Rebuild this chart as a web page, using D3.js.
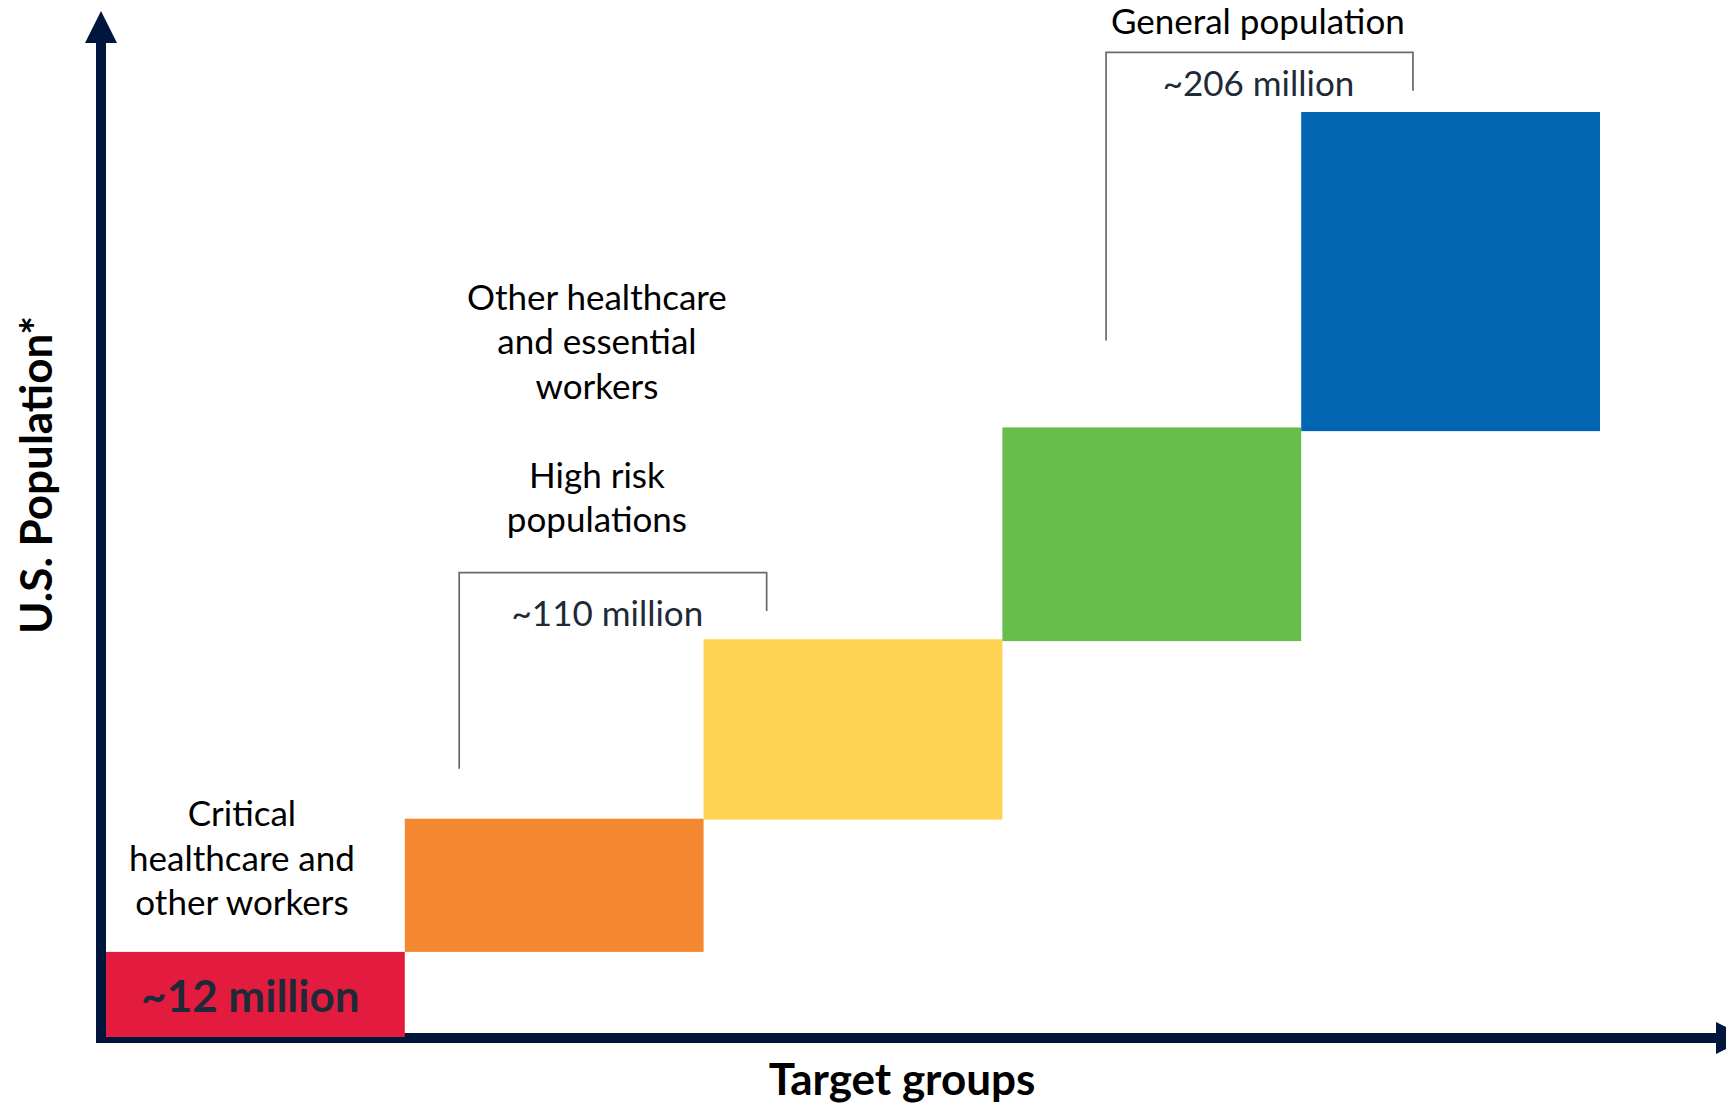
<!DOCTYPE html>
<html>
<head>
<meta charset="utf-8">
<script src="https://cdn.jsdelivr.net/npm/d3@7"></script>
<style>
  html, body { margin: 0; padding: 0; background: #fff; }
  svg { display: block; font-family: Lato, "Open Sans", sans-serif; }
  .label { font-size: 35px; fill: #000; }
  .size-label { font-size: 35px; fill: #1e2a38; }
  .big { font-size: 44px; font-weight: bold; }
  .bracket { fill: none; stroke: #666a70; stroke-width: 1.7px; }
</style>
</head>
<body>
<svg id="chart" width="1726" height="1106"></svg>
<script>
// DATA (heights are relative levels, top of chart = 100)
const STEPS = ["Step 1", "Step 2", "Step 3", "Step 4", "Step 5"];
const STEP_LOW = [0, 9.2, 23.5, 42.8, 65.5];
const STEP_HIGH = [9.2, 23.6, 43.0, 65.9, 100];
const STEP_COLORS = ["#e31c3f", "#f48830", "#fed352", "#67bd4a", "#0165b2"];

const GROUP_NAMES = [
  ["Critical", "healthcare and", "other workers"],
  ["Other healthcare", "and essential", "workers", "", "High risk", "populations"],
  ["General population"],
];
const GROUP_SIZES = ["~12 million", "~110 million", "~206 million"];
const X_TITLE = "Target groups";
const Y_TITLE = "U.S. Population*";

// LAYOUT (in step / level units, so it follows the scales)
const NAME_POS = [
  { x: 0.455, y: 22.8 },
  { x: 1.643, y: 78.6 },
  { x: 3.855, y: 108.4 },
];
const SIZE_POS = [
  { x: 0.483, y: 2.7 },
  { x: 1.678, y: 44.4 },
  { x: 3.857, y: 101.7 },
];
// brackets: [left x, right x, top y, left bottom y, right bottom y]
const BRACKETS = [null, [1.182, 2.211, 50.2, 29.0, 46.05], [3.347, 4.374, 106.45, 75.3, 102.3]];
const LINE_HEIGHT = 44.5;

var svg = d3.select("#chart");
var axisColor = "#01163d";
var origin = { x: 101, y: 1038 };
var axisWidth = 10;

var xScale = d3.scaleLinear().domain([0, STEPS.length]).range([106, 1600]);
var yScale = d3.scaleLinear().domain([0, 100]).range([1037, 112]);

//AXES WITH ARROW HEADS
var axes = svg.append("g").attr("class", "axes");
axes
  .append("line")
  .attr("x1", origin.x)
  .attr("x2", origin.x)
  .attr("y1", origin.y + axisWidth / 2)
  .attr("y2", 42)
  .attr("stroke", axisColor)
  .attr("stroke-width", axisWidth);
axes
  .append("path")
  .attr("d", `M${origin.x},11 L${origin.x - 16},43 L${origin.x + 16},43 Z`)
  .attr("fill", axisColor);
axes
  .append("line")
  .attr("x1", origin.x - axisWidth / 2)
  .attr("x2", 1717)
  .attr("y1", origin.y)
  .attr("y2", origin.y)
  .attr("stroke", axisColor)
  .attr("stroke-width", axisWidth);
axes
  .append("path")
  .attr("d", `M1716,${origin.y - 16} L1748,${origin.y} L1716,${origin.y + 16} Z`)
  .attr("fill", axisColor);

//STEP BARS
svg
  .selectAll(".step")
  .data(STEPS)
  .join("rect")
  .attr("class", "step")
  .attr("x", (d, i) => xScale(i))
  .attr("width", (d, i) => xScale(i + 1) - xScale(i))
  .attr("y", (d, i) => yScale(STEP_HIGH[i]))
  .attr("height", (d, i) => yScale(STEP_LOW[i]) - yScale(STEP_HIGH[i]))
  .attr("fill", (d, i) => STEP_COLORS[i]);

//BRACKETS
svg
  .selectAll(".bracket")
  .data(BRACKETS.filter((b) => b))
  .join("path")
  .attr("class", "bracket")
  .attr("d", (b) =>
    `M${xScale(b[0])},${yScale(b[3])} V${yScale(b[2])} H${xScale(b[1])} V${yScale(b[4])}`
  );

//GROUP NAMES
GROUP_NAMES.forEach((lines, i) => {
  var t = svg
    .append("text")
    .attr("class", "label")
    .attr("text-anchor", "middle")
    .attr("x", xScale(NAME_POS[i].x))
    .attr("y", yScale(NAME_POS[i].y));
  lines.forEach((line, j) => {
    t.append("tspan")
      .attr("x", xScale(NAME_POS[i].x))
      .attr("y", yScale(NAME_POS[i].y) + j * LINE_HEIGHT)
      .text(line);
  });
});

//GROUP SIZES
svg
  .selectAll(".size-label")
  .data(GROUP_SIZES)
  .join("text")
  .attr("class", (d, i) => (i === 0 ? "size-label big" : "size-label"))
  .attr("text-anchor", "middle")
  .attr("x", (d, i) => xScale(SIZE_POS[i].x))
  .attr("y", (d, i) => yScale(SIZE_POS[i].y))
  .text((d) => d);

//AXIS TITLES
svg
  .append("text")
  .attr("class", "big")
  .attr("text-anchor", "middle")
  .attr("x", 902)
  .attr("y", 1095)
  .text(X_TITLE);
svg
  .append("text")
  .attr("class", "big")
  .attr("text-anchor", "middle")
  .attr("transform", "translate(52,475) rotate(-90)")
  .text(Y_TITLE);
</script>
</body>
</html>
